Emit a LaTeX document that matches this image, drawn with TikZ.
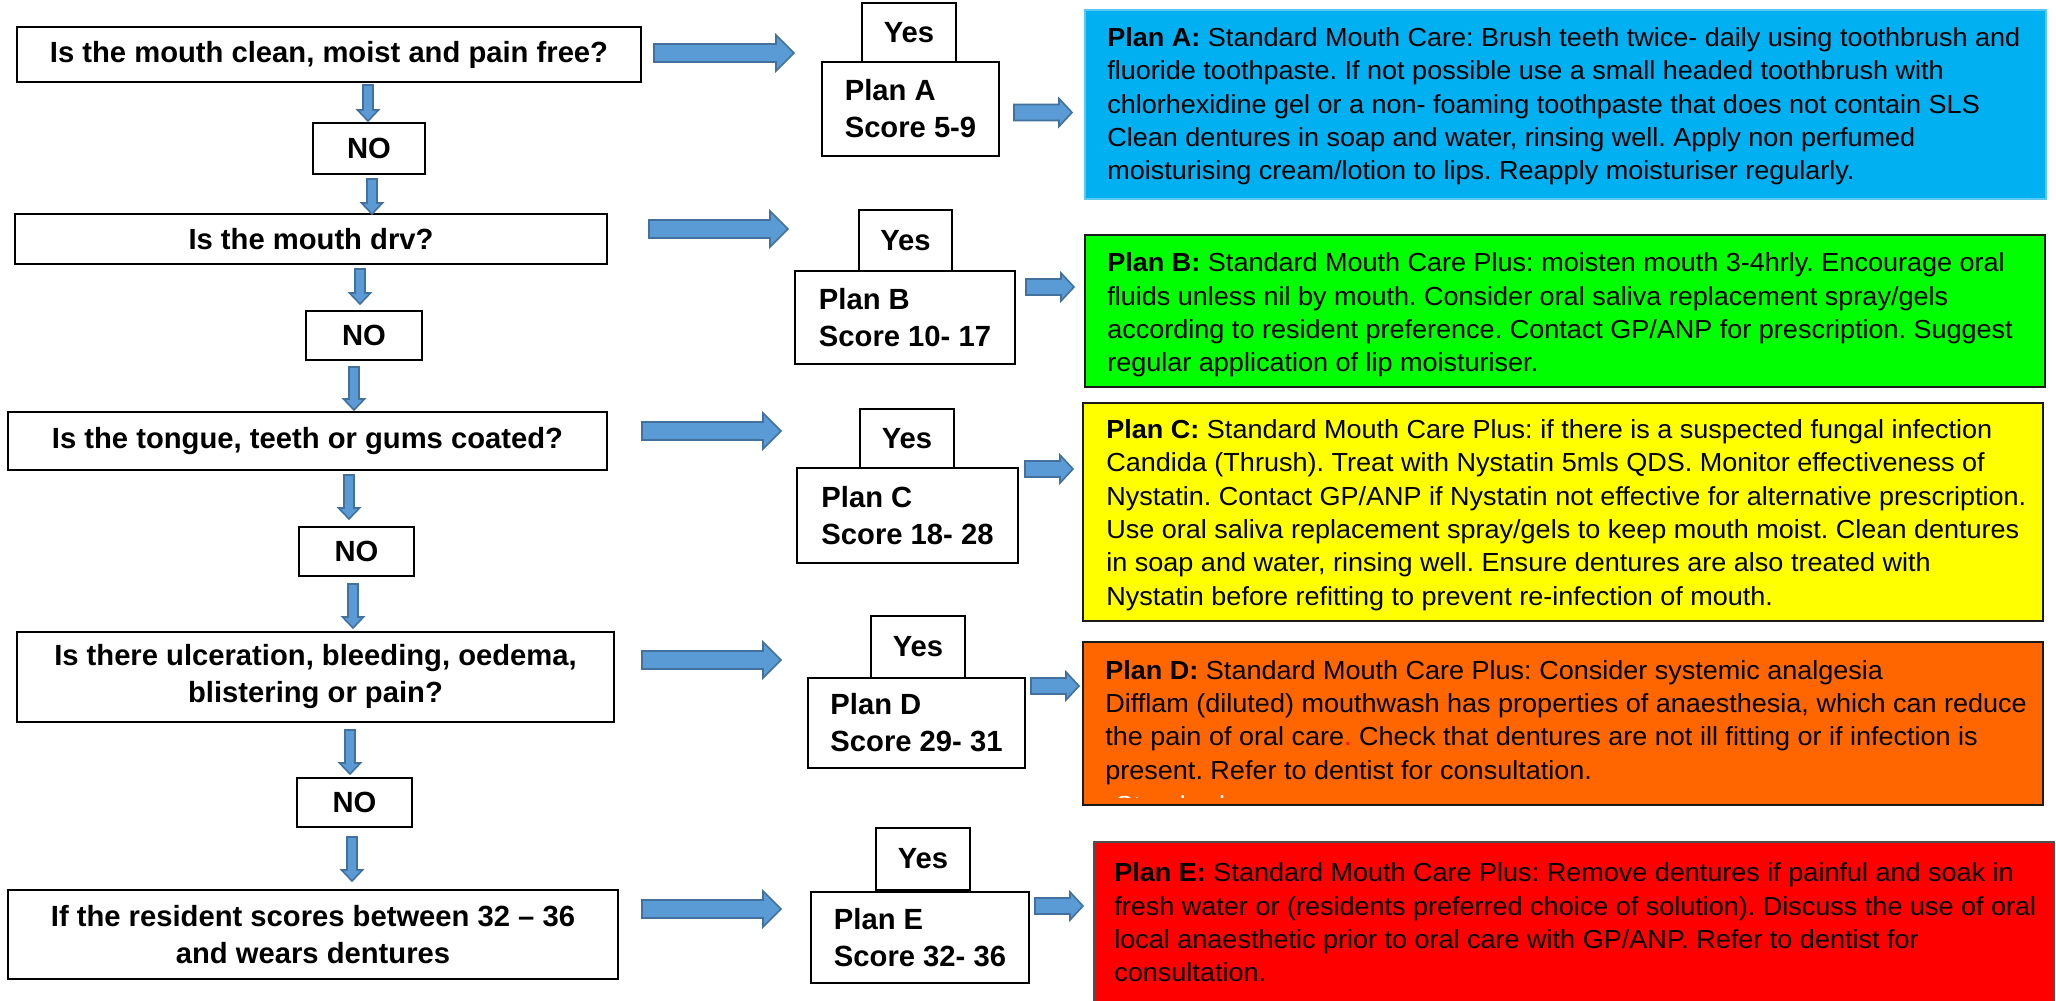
\documentclass[tikz,border=0pt]{standalone}
\usepackage{fontspec}
\setmainfont{Liberation Sans}
\newfontfamily\cfam{Liberation Sans}[FakeStretch=1.035]
\usetikzlibrary{calc}
\definecolor{arrfill}{HTML}{5B9BD5}
\definecolor{arrdraw}{HTML}{41719C}
\definecolor{planAc}{HTML}{00B0F0}
\definecolor{planAb}{HTML}{5CC8F2}
\definecolor{planBc}{HTML}{00FF00}
\definecolor{planCc}{HTML}{FFFF00}
\definecolor{planDc}{HTML}{FF6600}
\definecolor{planEc}{HTML}{FF0000}
\definecolor{bord}{HTML}{1A1A1A}
\definecolor{bordE}{HTML}{505050}
\newcommand\qfont{\fontsize{14.6}{18.5}\selectfont\bfseries\frenchspacing}
\newcommand\cfont{\cfam\fontsize{13.05}{16.65}\selectfont\frenchspacing}
\tikzset{
 qbox/.style={draw=black, line width=1pt, inner sep=0pt, align=center, font=\qfont},
 plbox/.style={draw=black, line width=1pt, inner sep=0pt, align=left, font=\qfont},
 cbox/.style={draw=bord, line width=1pt, inner sep=0pt},
 ctext/.style={anchor=west, inner sep=0pt, align=left, font=\cfont},
 blk/.style={fill=arrfill, draw=arrdraw, line width=0.8pt, line join=miter},
}
% right block arrow: start, length, shaft half, head half, head length
\newcommand\myhblk[5]{\draw[blk] #1 ++(0,-#3) -- ++(#2-#5,0) -- ++(0,#3-#4) -- ++(#5,#4) -- ++(-#5,#4) -- ++(0,#3-#4) -- ++(-#2+#5,0) -- cycle;}
% down block arrow: top centre, length, shaft half, head half, head length
\newcommand\myvblk[5]{\draw[blk] #1 ++(-#3,0) -- ++(2*#3,0) -- ++(0,#2-#5) -- ++(#4-#3,0) -- ++(-#4,#5) -- ++(-#4,-#5) -- ++(#4-#3,0) -- cycle;}
\begin{document}
\begin{tikzpicture}[x=0.5pt,y=-0.5pt]
\useasboundingbox (0,0) rectangle (2056,1001);
\fill[white] (0,0) rectangle (2056,1001);

% left column
\node[qbox, minimum width=312pt, minimum height=27.5pt] (q1) at (329,54.5) {Is the mouth clean, moist and pain free?};
\node[qbox, minimum width=56pt, minimum height=25.5pt] (no1) at (369,148.5) {NO};
\node[qbox, minimum width=296pt, minimum height=25pt] (q2) at (311,239) {Is the mouth drv?};
\node[qbox, minimum width=58pt, minimum height=24.5pt] (no2) at (364,335.5) {NO};
\node[qbox, minimum width=299.5pt, minimum height=29pt] (q3) at (307.5,441) {Is the tongue, teeth or gums coated?};
\node[qbox, minimum width=57.5pt, minimum height=24.5pt] (no3) at (356.5,551.5) {NO};
\node[qbox, minimum width=298.5pt, minimum height=45pt] (q4) at (315.5,677) {Is there ulceration, bleeding, oedema,\\blistering or pain?};
\node[qbox, minimum width=57.5pt, minimum height=24.5pt] (no4) at (354.5,802.5) {NO};
\node[qbox, minimum width=305pt, minimum height=44.5pt] (q5) at (313,934.5) {If the resident scores between 32 – 36\\and wears dentures};

% yes / plan column
\node[qbox, minimum width=47pt, minimum height=29.5pt] (yA) at (909,32.5) {Yes};
\node[plbox, minimum width=88.5pt, minimum height=47pt] (pA) at (910.5,109) {Plan A\\Score 5-9};
\node[qbox, minimum width=46.5pt, minimum height=30.5pt] (yB) at (905.5,240.5) {Yes};
\node[plbox, minimum width=110pt, minimum height=46.5pt] (pB) at (905,317.5) {Plan B\\Score 10- 17};
\node[qbox, minimum width=47pt, minimum height=29.5pt] (yC) at (907,438.5) {Yes};
\node[plbox, minimum width=110.5pt, minimum height=47.5pt] (pC) at (907.5,515.5) {Plan C\\Score 18- 28};
\node[qbox, minimum width=47pt, minimum height=31pt] (yD) at (918,647) {Yes};
\node[plbox, minimum width=108.5pt, minimum height=45pt] (pD) at (916.5,723) {Plan D\\Score 29- 31};
\node[qbox, minimum width=47pt, minimum height=31pt] (yE) at (923,859) {Yes};
\node[plbox, minimum width=109pt, minimum height=45.5pt] (pE) at (920,937.5) {Plan E\\Score 32- 36};

% coloured boxes
\node[cbox, draw=planAb, fill=planAc, minimum width=480.5pt, minimum height=94.5pt] (bA) at (1565.5,104.5) {};
\node[ctext] (tA) at ($(bA.west)+(23,2)$) {\textbf{Plan A:} Standard Mouth Care: Brush teeth twice- daily using toothbrush and\\
fluoride toothpaste. If not possible use a small headed toothbrush with\\
chlorhexidine gel or a non- foaming toothpaste that does not contain SLS\\
Clean dentures in soap and water, rinsing well. Apply non perfumed\\
moisturising cream/lotion to lips. Reapply moisturiser regularly.};

\node[cbox, fill=planBc, minimum width=480pt, minimum height=76pt] (bB) at (1565,311) {};
\node[ctext] (tB) at ($(bB.west)+(23,4)$) {\textbf{Plan B:} Standard Mouth Care Plus: moisten mouth 3-4hrly. Encourage oral\\
fluids unless nil by mouth. Consider oral saliva replacement spray/gels\\
according to resident preference. Contact GP/ANP for prescription. Suggest\\
regular application of lip moisturiser.};

\node[cbox, fill=planCc, minimum width=480pt, minimum height=109pt] (bC) at (1563,512) {};
\node[ctext] (tC) at ($(bC.west)+(24,3)$) {\textbf{Plan C:} Standard Mouth Care Plus: if there is a suspected fungal infection\\
Candida (Thrush). Treat with Nystatin 5mls QDS. Monitor effectiveness of\\
Nystatin. Contact GP/ANP if Nystatin not effective for alternative prescription.\\
Use oral saliva replacement spray/gels to keep mouth moist. Clean dentures\\
in soap and water, rinsing well. Ensure dentures are also treated with\\
Nystatin before refitting to prevent re-infection of mouth.};

\node[cbox, fill=planDc, minimum width=480pt, minimum height=81.5pt] (bD) at (1563,723.5) {};
\node[ctext] (tD) at ($(bD.west)+(23,-1)$) {\textbf{Plan D:} Standard Mouth Care Plus: Consider systemic analgesia\\
Difflam (diluted) mouthwash has properties of anaesthesia, which can reduce\\
the pain of oral care{\color{planEc}.} Check that dentures are not ill fitting or if infection is\\
present. Refer to dentist for consultation.};
\begin{scope}
\clip (bD.north west) rectangle ($(bD.south east)+(0,-9)$);
\node[ctext, text=white, anchor=base west] (tDx) at ($(bD.south west)+(33,8)$) {Standard};
\end{scope}

\node[cbox, draw=bordE, fill=planEc, minimum width=480pt, minimum height=80.5pt] (bE) at (1574,922.5) {};
\node[ctext] (tE) at ($(bE.west)+(21,0)$) {\textbf{Plan E:} Standard Mouth Care Plus: Remove dentures if painful and soak in\\
fresh water or (residents preferred choice of solution). Discuss the use of oral\\
local anaesthetic prior to oral care with GP/ANP. Refer to dentist for\\
consultation.};

% down arrows
\myvblk{($(q1.south -| no1.north)+(-1,2)$)}{36}{5}{10.5}{11}
\myvblk{($(no1.south)+(3,4)$)}{35}{5}{10.5}{11}
\myvblk{($(q2.south -| no2.north)+(-4,4)$)}{35}{5}{10.5}{11}
\myvblk{($(no2.south)+(-10,6)$)}{43}{5}{10.5}{11}
\myvblk{($(q3.south -| no3.north)+(-7.5,4)$)}{44}{5}{10.5}{11}
\myvblk{($(no3.south)+(-3.5,7)$)}{44}{5}{10.5}{11}
\myvblk{($(q4.south -| no4.north)+(-4.5,7)$)}{44}{5}{10.5}{11}
\myvblk{($(no4.south)+(-2.5,9)$)}{44}{5}{10.5}{11}

% big right arrows
\myhblk{($(q1.east)+(12,-1.5)$)}{140}{9}{18}{18}
\myhblk{($(q2.east)+(41,-10)$)}{139}{9}{18}{18}
\myhblk{($(q3.east)+(34,-10)$)}{139}{9}{18}{18}
\myhblk{($(q4.east)+(27,-17)$)}{139}{9}{18}{18}
\myhblk{($(q5.east)+(23,-25.5)$)}{139}{9}{18}{18}

% small right arrows
\myhblk{($(pA.east)+(14,3.5)$)}{58}{8}{14}{13}
\myhblk{($(pB.east)+(10,-30.5)$)}{48}{8}{14}{13}
\myhblk{($(pC.east)+(6,-46.5)$)}{48}{8}{14}{13}
\myhblk{($(pD.east)+(5,-37)$)}{48}{8}{14}{13}
\myhblk{($(pE.east)+(5,-31.5)$)}{48}{8}{14}{13}
\end{tikzpicture}
\end{document}
